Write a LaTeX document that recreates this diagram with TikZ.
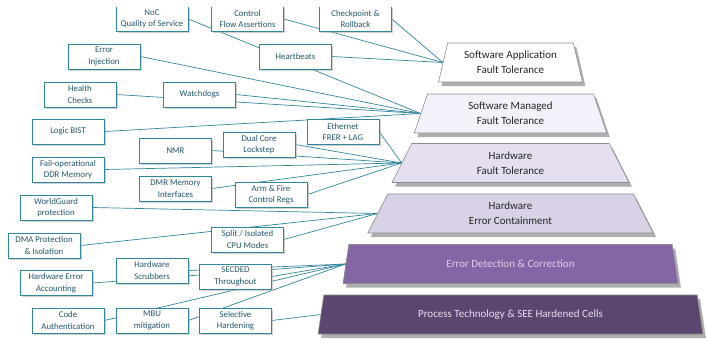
\documentclass[tikz,border=0pt]{standalone}
\usepackage{fontspec}
\setmainfont{Carlito}
\usetikzlibrary{shapes.geometric,shadows,backgrounds}
\definecolor{tealline}{HTML}{31859C}
\definecolor{tealtext}{HTML}{24586A}
\definecolor{tierborder}{HTML}{8C8C8C}
\definecolor{tierA}{HTML}{FFFFFF}
\definecolor{tierB}{HTML}{F3F1F9}
\definecolor{tierC}{HTML}{E5DFEF}
\definecolor{tierD}{HTML}{D9D1E6}
\definecolor{tierE}{HTML}{8466A6}
\definecolor{tierF}{HTML}{5B4670}
\definecolor{tiertext}{HTML}{262626}
\begin{document}
\begin{tikzpicture}[x=1pt,y=-1pt,
  box/.style={draw=tealline, line width=0.8pt, fill=white, minimum width=72pt,
    minimum height=25pt, inner sep=0pt, align=center,
    font=\fontsize{8.8}{11.5}\selectfont, text=tealtext,
    drop shadow={shadow xshift=1.5pt, shadow yshift=-1.5pt, fill=black!30, opacity=0.6}},
  tier/.style={trapezium, trapezium left angle=73.5, trapezium right angle=73.5,
    trapezium stretches=true, minimum height=39pt, inner sep=0pt,
    draw=tierborder, line width=0.6pt, align=center, text=tiertext,
    font=\fontsize{11}{15}\selectfont,
    drop shadow={shadow xshift=3pt, shadow yshift=-4pt, fill=black!45, opacity=0.7}},
  conn/.style={draw=tealline, line width=0.7pt}
]
\useasboundingbox (0,0) rectangle (706,343);

% tiers
\node[tier, fill=tierA, minimum width=144pt] (t1) at (510.5,62.5) {Software Application\\Fault Tolerance};
\node[tier, fill=tierB, minimum width=193pt] (t2) at (510.5,113.5) {Software Managed\\Fault Tolerance};
\node[tier, fill=tierC, minimum width=238pt] (t3) at (510.5,163) {Hardware\\Fault Tolerance};
\node[tier, fill=tierD, minimum width=287pt] (t4) at (510.5,213.5) {Hardware\\Error Containment};
\node[tier, fill=tierE, minimum width=335pt, text=tierD] (t5) at (510.5,264) {Error Detection \& Correction};
\node[tier, fill=tierF, minimum width=385pt, text=tierC] (t6) at (510.5,314.5) {Process Technology \& SEE Hardened Cells};

% boxes
\node[box] (noc) at (152,19) {NoC\\Quality of Service};
\node[box] (cfa) at (247.5,19) {Control\\Flow Assertions};
\node[box] (cpr) at (355.5,19) {Checkpoint \&\\Rollback};
\node[box] (einj) at (104,56.5) {Error\\Injection};
\node[box] (hb) at (295.5,56.5) {Heartbeats};
\node[box] (hc) at (80,94.5) {Health\\Checks};
\node[box] (wd) at (199.5,94.5) {Watchdogs};
\node[box] (lbist) at (68,131.5) {Logic BIST};
\node[box] (eth) at (343,132) {Ethernet\\FRER + LAG};
\node[box] (nmr) at (175.5,150.5) {NMR};
\node[box] (dcl) at (259,144.5) {Dual Core\\Lockstep};
\node[box] (fod) at (68,169.5) {Fail-operational\\DDR Memory};
\node[box] (dmr) at (175.5,188.5) {DMR Memory\\Interfaces};
\node[box] (arm) at (271,194.5) {Arm \& Fire\\Control Regs};
\node[box] (wg) at (56,207.5) {WorldGuard\\protection};
\node[box] (dma) at (44,245.5) {DMA Protection\\\& Isolation};
\node[box] (split) at (247.5,239.5) {Split / Isolated\\CPU Modes};
\node[box] (scrub) at (152,270.5) {Hardware\\Scrubbers};
\node[box] (hea) at (56,283) {Hardware Error\\Accounting};
\node[box] (secded) at (235.5,276.5) {SECDED\\Throughout};
\node[box] (code) at (68,320.5) {Code\\Authentication};
\node[box] (mbu) at (152,320.5) {MBU\\mitigation};
\node[box] (sel) at (235.5,320.5) {Selective\\Hardening};

% connectors
\begin{pgfonlayer}{background}
\draw[conn] (cfa.east) -- (t1.west);
\draw[conn] (cpr.east) -- (t1.west);
\draw[conn] (hb.east) -- (t1.west);
\draw[conn] (noc.east) -- (t2.west);
\draw[conn] (einj.east) -- (t2.west);
\draw[conn] (hc.east) -- (t2.west);
\draw[conn] (wd.east) -- (t2.west);
\draw[conn] (lbist.east) -- (t2.west);
\draw[conn] (eth.east) -- (t3.west);
\draw[conn] (dcl.east) -- (t3.west);
\draw[conn] (nmr.east) -- (t3.west);
\draw[conn] (fod.east) -- (t3.west);
\draw[conn] (dmr.east) -- (t3.west);
\draw[conn] (arm.east) -- (t3.west);
\draw[conn] (wg.east) -- (t4.west);
\draw[conn] (dma.east) -- (t4.west);
\draw[conn] (split.east) -- (t4.west);
\draw[conn] (scrub.east) -- (t5.west);
\draw[conn] (hea.east) -- (t5.west);
\draw[conn] (secded.east) -- (t5.west);
\draw[conn] (code.east) -- (t5.west);
\draw[conn] (mbu.east) -- (t5.west);
\draw[conn] (sel.east) -- (t6.west);
\end{pgfonlayer}

% top crop band
\fill[white] (-2,-2) rectangle (708,6.6);
\end{tikzpicture}
\end{document}
